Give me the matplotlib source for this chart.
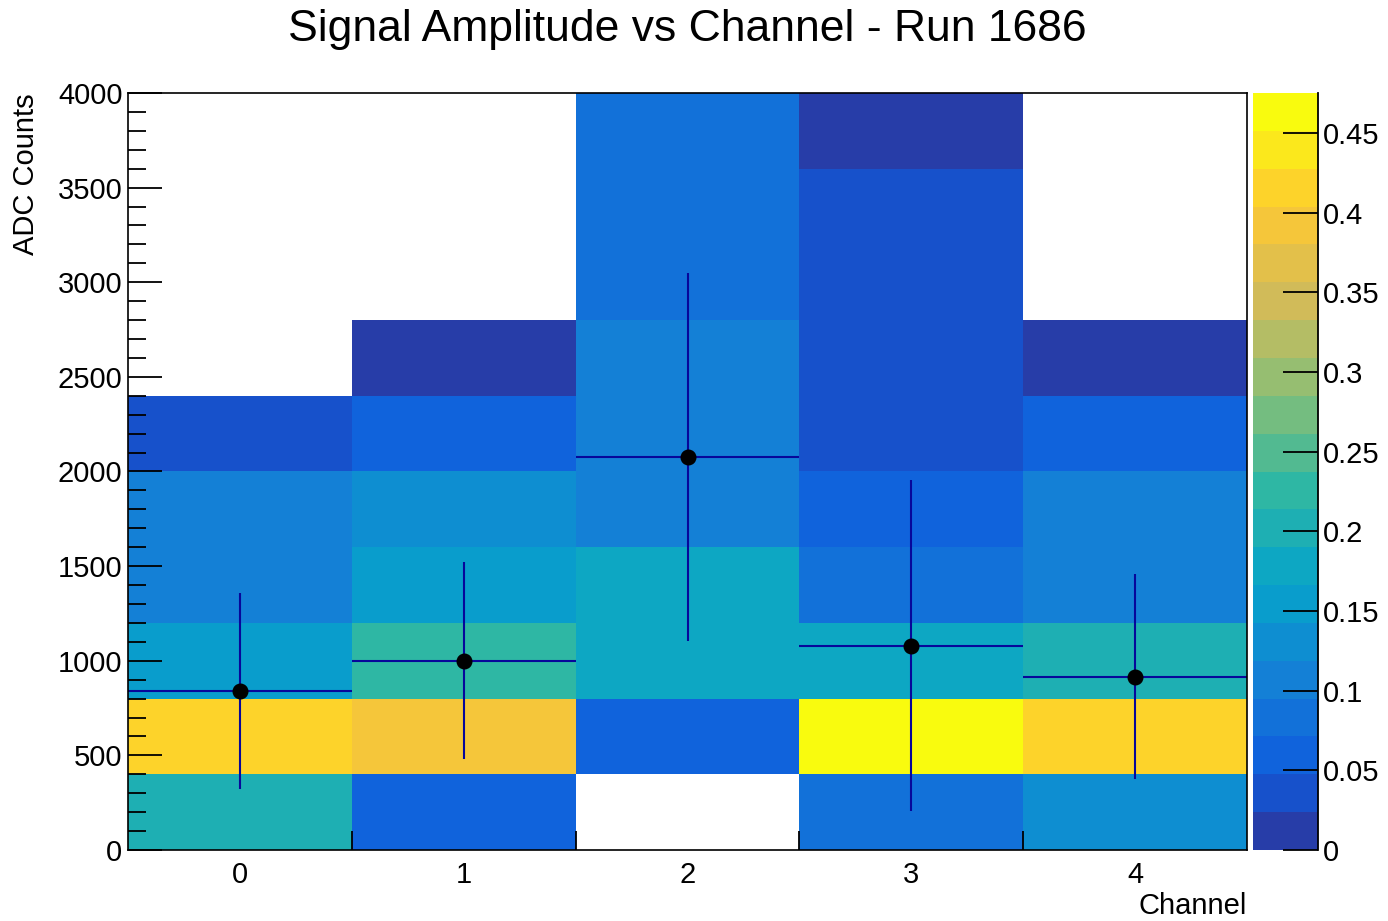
import numpy as np
import matplotlib
matplotlib.use("Agg")
import matplotlib.pyplot as plt
from matplotlib.colors import ListedColormap, Normalize
from matplotlib.ticker import MultipleLocator, FixedLocator, FuncFormatter

plt.rcParams["font.family"] = ["Liberation Sans", "DejaVu Sans"]

# ---- data -------------------------------------------------------------
channels = [0, 1, 2, 3, 4]
channel_edges = [-0.5, 0.5, 1.5, 2.5, 3.5, 4.5]
amp_edges = [0, 400, 800, 1200, 1600, 2000, 2400, 2800, 3200, 3600, 4000]

# fraction of events per amplitude bin (bins from 0-400 up to 3600-4000)
frac_ch0 = [0.200, 0.415, 0.155, 0.100, 0.100, 0.030, 0.000, 0.000, 0.000, 0.000]
frac_ch1 = [0.055, 0.385, 0.220, 0.150, 0.125, 0.050, 0.015, 0.000, 0.000, 0.000]
frac_ch2 = [0.000, 0.065, 0.185, 0.185, 0.110, 0.110, 0.110, 0.080, 0.080, 0.075]
frac_ch3 = [0.078, 0.475, 0.172, 0.075, 0.055, 0.030, 0.030, 0.030, 0.030, 0.015]
frac_ch4 = [0.125, 0.410, 0.195, 0.100, 0.100, 0.055, 0.015, 0.000, 0.000, 0.000]

# profile: mean amplitude and spread per channel
profile_mean = [838, 1001, 2075, 1080, 915]
profile_spread = [518, 522, 973, 875, 542]

title = "Signal Amplitude vs Channel - Run 1686"
xlabel = "Channel"
ylabel = "ADC Counts"
z_ticks = [0, 0.05, 0.1, 0.15, 0.2, 0.25, 0.3, 0.35, 0.4, 0.45]

# ---- ROOT "bird" palette, 20 contour levels ---------------------------
stops = [0.0, 0.125, 0.25, 0.375, 0.5, 0.625, 0.75, 0.875, 1.0]
red = [0.2082, 0.0592, 0.0780, 0.0232, 0.1802, 0.5301, 0.8186, 0.9956, 0.9764]
green = [0.1664, 0.3599, 0.5041, 0.6419, 0.7178, 0.7492, 0.7328, 0.7862, 0.9832]
blue = [0.5293, 0.8684, 0.8385, 0.7914, 0.6425, 0.4662, 0.3499, 0.1968, 0.0539]
n_grad, n_cont = 255, 20
idx = [int((i + 0.99) * n_grad / n_cont) for i in range(n_cont)]
pos = np.array(idx) / (n_grad - 1)
band_colors = np.column_stack([np.interp(pos, stops, red),
                               np.interp(pos, stops, green),
                               np.interp(pos, stops, blue)])
cmap = ListedColormap(band_colors)

# ---- figure -----------------------------------------------------------
W, H = 1388, 921
fig = plt.figure(figsize=(W / 100, H / 100), dpi=100)

def frac_box(x0, y0, x1, y1):
    return [x0 / W, 1 - y1 / H, (x1 - x0) / W, (y1 - y0) / H]

ax = fig.add_axes(frac_box(128, 93, 1247, 850))
cax = fig.add_axes(frac_box(1253, 93, 1318, 850))

z = np.array([frac_ch0, frac_ch1, frac_ch2, frac_ch3, frac_ch4]).T
z = np.ma.masked_less_equal(z, 0)
norm = Normalize(vmin=0, vmax=float(z.max()))
mesh = ax.pcolormesh(channel_edges, amp_edges, z, cmap=cmap, norm=norm,
                     shading="flat", edgecolors="none", zorder=1)

ax.errorbar(channels, profile_mean, yerr=profile_spread, xerr=0.5,
            fmt="o", color="black", markersize=10.5, ecolor="#07079a",
            elinewidth=1.5, capsize=0, zorder=3)

ax.set_xlim(channel_edges[0], channel_edges[-1])
ax.set_ylim(amp_edges[0], amp_edges[-1])

# x axis: labels at channel centres, ticks at bin edges
ax.xaxis.set_major_locator(FixedLocator(channels))
ax.xaxis.set_minor_locator(FixedLocator(channel_edges[1:-1]))
ax.tick_params(axis="x", which="major", length=0, pad=8, labelsize=21)
ax.tick_params(axis="x", which="minor", direction="in", length=14,
               width=1.3, color="black")

# y axis
ax.yaxis.set_major_locator(MultipleLocator(500))
ax.yaxis.set_minor_locator(MultipleLocator(100))
ax.tick_params(axis="y", which="major", direction="in", length=24.5,
               width=1.3, pad=4, labelsize=21)
ax.tick_params(axis="y", which="minor", direction="in", length=13, width=1.3)

for sp in ax.spines.values():
    sp.set_linewidth(1.2)
    sp.set_zorder(5)

ax.set_xlabel(xlabel, fontsize=21, loc="right")
ax.xaxis.set_label_coords(1.0, -0.055)
ax.set_ylabel(ylabel, fontsize=21, loc="top")
ax.yaxis.set_label_coords(-0.079, 1.0)

fig.text(0.4953, 1 - 30 / H, title, fontsize=32, ha="center", va="center")

# colour scale
cb = fig.colorbar(mesh, cax=cax)
cb.outline.set_visible(False)
cb.set_ticks(z_ticks)
cb.ax.yaxis.set_major_formatter(FuncFormatter(lambda v, p: f"{v:g}"))
cb.ax.tick_params(axis="y", direction="in", length=25, width=1.3, pad=3.5,
                  labelsize=21, right=True, left=False)
cb.ax.minorticks_off()
cax.plot([1, 1], [0, 1], transform=cax.transAxes, color="black", lw=1.3,
         clip_on=False, zorder=5)

fig.savefig("out.png", dpi=100, facecolor="white")
